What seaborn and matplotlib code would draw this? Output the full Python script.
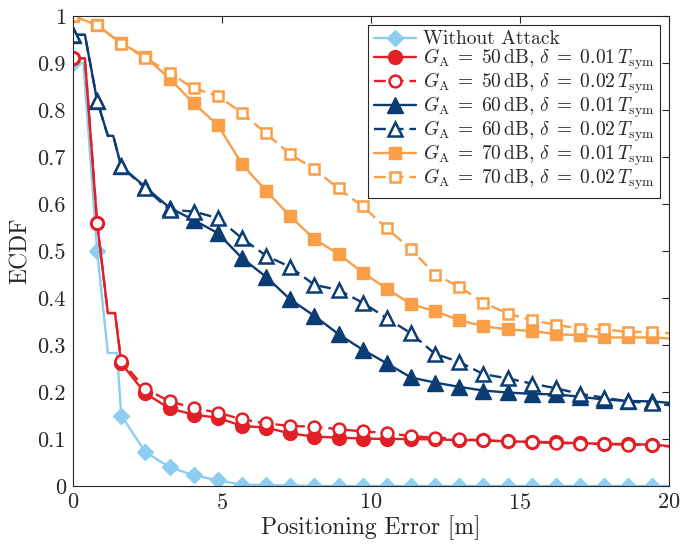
import numpy as np
import pandas as pd
import matplotlib
matplotlib.use("Agg")
import matplotlib.pyplot as plt
import seaborn as sns

# Positioning-error grid (markers every 0.81 m) and extra line vertices
x_mark = [round(0.81 * i, 2) for i in range(25)]

# ECDF values at the marker positions
no_attack = [0.90, 0.50, 0.150, 0.072, 0.040, 0.023, 0.012, 0.003, 0.002, 0.001,
             0.0, 0.0, 0.0, 0.0, 0.0, 0.0, 0.0, 0.0, 0.0, 0.0,
             0.0, 0.0, 0.0, 0.0, 0.0]
ga50_d01 = [0.91, 0.56, 0.261, 0.197, 0.165, 0.152, 0.145, 0.128, 0.124, 0.112,
            0.105, 0.103, 0.101, 0.100, 0.100, 0.099, 0.098, 0.097, 0.095, 0.094,
            0.093, 0.091, 0.090, 0.089, 0.088]
ga50_d02 = [0.91, 0.56, 0.266, 0.207, 0.180, 0.166, 0.156, 0.142, 0.133, 0.128,
            0.126, 0.121, 0.116, 0.113, 0.106, 0.103, 0.100, 0.097, 0.095, 0.093,
            0.092, 0.090, 0.089, 0.088, 0.087]
ga60_d01 = [0.96, 0.82, 0.680, 0.636, 0.592, 0.566, 0.538, 0.485, 0.445, 0.397,
            0.362, 0.323, 0.290, 0.261, 0.231, 0.220, 0.211, 0.203, 0.199, 0.196,
            0.195, 0.190, 0.184, 0.181, 0.180]
ga60_d02 = [0.96, 0.82, 0.680, 0.633, 0.588, 0.584, 0.570, 0.527, 0.490, 0.466,
            0.428, 0.417, 0.390, 0.357, 0.325, 0.281, 0.264, 0.238, 0.229, 0.218,
            0.208, 0.196, 0.188, 0.180, 0.176]
ga70_d01 = [1.0, 0.981, 0.942, 0.913, 0.867, 0.814, 0.768, 0.685, 0.628, 0.574,
            0.525, 0.494, 0.454, 0.420, 0.387, 0.372, 0.353, 0.340, 0.333, 0.330,
            0.323, 0.321, 0.316, 0.316, 0.316]
ga70_d02 = [1.0, 0.981, 0.940, 0.911, 0.879, 0.846, 0.830, 0.794, 0.750, 0.706,
            0.674, 0.633, 0.595, 0.548, 0.504, 0.450, 0.424, 0.390, 0.367, 0.353,
            0.343, 0.335, 0.333, 0.328, 0.328]

# Value of each curve at the right edge (20 m)
end_x = 20.0
end_vals = [0.0, 0.085, 0.084, 0.177, 0.172, 0.314, 0.325]

# Early step vertices between markers: (x, y) pairs per curve
early_no_attack = [(0.35, 0.90), (1.17, 0.283), (1.48, 0.283)]
early_red = [(0.40, 0.91), (1.17, 0.368), (1.41, 0.368)]
early_navy = [(0.40, 0.96), (1.17, 0.745), (1.35, 0.745)]

labels = [
    "Without Attack",
    r"$G_\mathrm{A} \;=\; 50\,\mathrm{dB}$, $\delta \;=\; 0.01\,T_\mathrm{sym}$",
    r"$G_\mathrm{A} \;=\; 50\,\mathrm{dB}$, $\delta \;=\; 0.02\,T_\mathrm{sym}$",
    r"$G_\mathrm{A} \;=\; 60\,\mathrm{dB}$, $\delta \;=\; 0.01\,T_\mathrm{sym}$",
    r"$G_\mathrm{A} \;=\; 60\,\mathrm{dB}$, $\delta \;=\; 0.02\,T_\mathrm{sym}$",
    r"$G_\mathrm{A} \;=\; 70\,\mathrm{dB}$, $\delta \;=\; 0.01\,T_\mathrm{sym}$",
    r"$G_\mathrm{A} \;=\; 70\,\mathrm{dB}$, $\delta \;=\; 0.02\,T_\mathrm{sym}$",
]

sns.set_theme(style="white")
plt.rcParams["font.family"] = ["cmr10", "DejaVu Serif"]
plt.rcParams["mathtext.fontset"] = "cm"
plt.rcParams["axes.formatter.use_mathtext"] = True

light_blue = "#8ccdf0"
red = "#e31f26"
navy = "#0b3c73"
orange = "#fa9f47"

styles = [
    dict(color=light_blue, marker="D", ms=8.5, mfc=light_blue, dashed=False, early=early_no_attack),
    dict(color=red, marker="o", ms=10, mfc=red, dashed=False, early=early_red),
    dict(color=red, marker="o", ms=8.5, mfc="white", dashed=True, early=early_red),
    dict(color=navy, marker="^", ms=11, mfc=navy, dashed=False, early=early_navy),
    dict(color=navy, marker="^", ms=9.5, mfc="white", dashed=True, early=early_navy),
    dict(color=orange, marker="s", ms=9, mfc=orange, dashed=False, early=[]),
    dict(color=orange, marker="s", ms=7, mfc="white", dashed=True, early=[]),
]
series = [no_attack, ga50_d01, ga50_d02, ga60_d01, ga60_d02, ga70_d01, ga70_d02]

fig = plt.figure(figsize=(6.82, 5.44), dpi=100)
ax = fig.add_axes([0.107, 0.1066, 0.874, 0.864])

for vals, st, lab, yend in zip(series, styles, labels, end_vals):
    pts = [(x, y, True) for x, y in zip(x_mark, vals)]
    pts += [(x, y, False) for x, y in st["early"]]
    pts.append((end_x, yend, False))
    df = pd.DataFrame(pts, columns=["x", "y", "m"]).sort_values("x").reset_index(drop=True)
    mark_idx = list(df.index[df["m"]])
    sns.lineplot(
        data=df, x="x", y="y", ax=ax, estimator=None, sort=False,
        color=st["color"], lw=1.7,
        linestyle=(0, (5, 2.5)) if st["dashed"] else "-",
        marker=st["marker"], markersize=st["ms"], markevery=mark_idx,
        markerfacecolor=st["mfc"], markeredgecolor=st["color"],
        markeredgewidth=1.8 if st["mfc"] == "white" else 1.0,
        label=lab,
    )

ax.set_xlim(0, 20)
ax.set_ylim(0, 1)
ax.set_xticks([0, 5, 10, 15, 20])
ax.set_yticks(np.round(np.arange(0, 1.01, 0.1), 1))
ax.set_yticklabels(["0"] + [f"{v:.1f}" for v in np.arange(0.1, 0.95, 0.1)] + ["1"])
ax.set_xlabel("Positioning Error [m]", fontsize=17, labelpad=2)
ax.set_ylabel("ECDF", fontsize=17, labelpad=4)
ax.tick_params(axis="both", which="both", direction="in", top=True, right=True,
               labelsize=16, length=5, width=0.8, colors="#262626", pad=5)
for sp in ax.spines.values():
    sp.set_color("#262626")
    sp.set_linewidth(0.8)

leg = ax.legend(loc="upper right", fontsize=14, frameon=True, fancybox=False,
                edgecolor="#262626", framealpha=1, borderpad=0.3,
                handlelength=2.2, handletextpad=0.35, labelspacing=-0.08,
                borderaxespad=0.45)
leg.get_frame().set_linewidth(0.8)

fig.savefig("out.png", dpi=100)
